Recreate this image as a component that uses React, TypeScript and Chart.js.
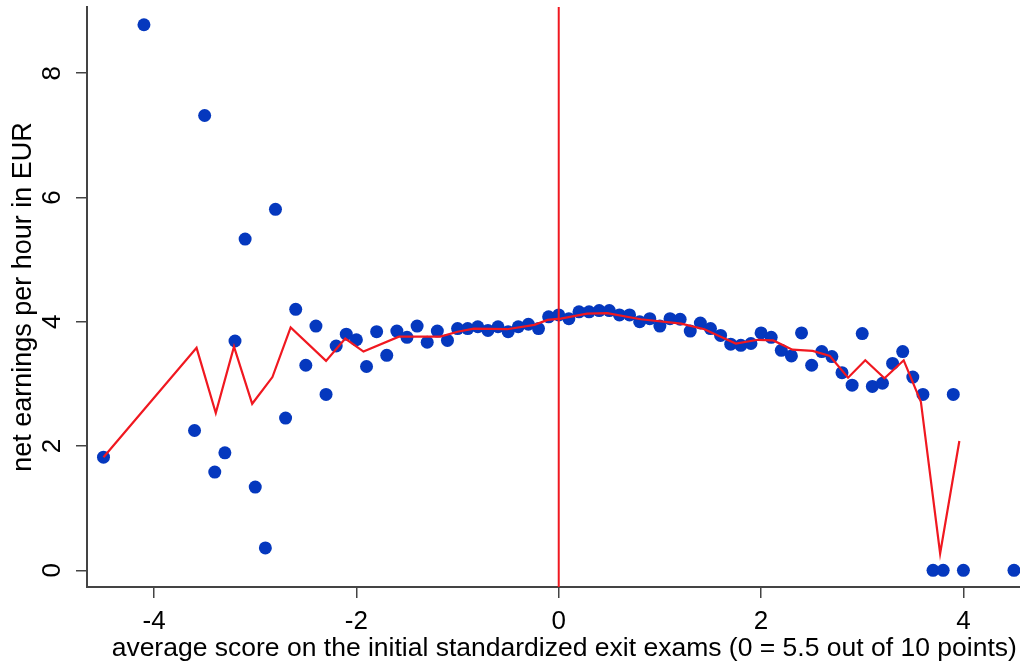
import React, { useEffect, useRef } from "react";
import { Chart, registerables } from "chart.js";

Chart.register(...registerables);

// Binned means (blue dots)
const binX = [
  -4.5, -4.1, -3.6, -3.5, -3.4, -3.3, -3.2, -3.1, -3.0, -2.9, -2.8, -2.7, -2.6, -2.5, -2.4, -2.3, -2.2, -2.1, -2.0, -1.9,
  -1.8, -1.7, -1.6, -1.5, -1.4, -1.3, -1.2, -1.1, -1.0, -0.9, -0.8, -0.7, -0.6, -0.5, -0.4, -0.3, -0.2, -0.1, 0.0, 0.1,
  0.2, 0.3, 0.4, 0.5, 0.6, 0.7, 0.8, 0.9, 1.0, 1.1, 1.2, 1.3, 1.4, 1.5, 1.6, 1.7, 1.8, 1.9, 2.0, 2.1,
  2.2, 2.3, 2.4, 2.5, 2.6, 2.7, 2.8, 2.9, 3.0, 3.1, 3.2, 3.3, 3.4, 3.5, 3.6, 3.7, 3.8, 3.9, 4.0, 4.5,
];
const binY = [
  1.82, 8.78, 2.25, 7.32, 1.58, 1.89, 3.69, 5.33, 1.34, 0.36, 5.81, 2.45, 4.2, 3.3, 3.93, 2.83, 3.61, 3.8, 3.71, 3.28,
  3.84, 3.46, 3.85, 3.75, 3.93, 3.67, 3.85, 3.7, 3.89, 3.89, 3.92, 3.86, 3.92, 3.84, 3.92, 3.96, 3.89, 4.08, 4.11, 4.05,
  4.16, 4.16, 4.18, 4.18, 4.11, 4.11, 4.0, 4.05, 3.93, 4.05, 4.04, 3.85, 3.98, 3.89, 3.78, 3.64, 3.62, 3.65, 3.82, 3.75,
  3.54, 3.45, 3.82, 3.3, 3.52, 3.44, 3.18, 2.98, 3.81, 2.96, 3.01, 3.33, 3.52, 3.11, 2.83, 0.0, 0.0, 2.83, 0.0, 0.0,
];

// Fitted (smoothed) line
const fitX = [
  -4.5, -3.58, -3.39, -3.21, -3.03, -2.83, -2.65, -2.3, -2.11, -1.93, -1.58, -1.17, -1.0, -0.84, -0.51, -0.24, -0.11, 0.02,
  0.28, 0.48, 0.81, 1.21, 1.44, 1.6, 1.75, 1.97, 2.12, 2.31, 2.51, 2.68, 2.86, 3.03, 3.22, 3.41, 3.58, 3.77, 3.96,
];
const fitY = [
  1.82, 3.58, 2.53, 3.6, 2.68, 3.11, 3.91, 3.37, 3.73, 3.52, 3.76, 3.76, 3.84, 3.89, 3.88, 3.95, 4.03, 4.05,
  4.13, 4.14, 4.04, 3.97, 3.88, 3.76, 3.65, 3.71, 3.7, 3.55, 3.53, 3.45, 3.1, 3.38, 3.09, 3.38, 2.71, 0.27, 2.08,
];

// Cutoff
const cutoffX = 0;

// Axes
const xTicks = [-4, -2, 0, 2, 4];
const yTicks = [0, 2, 4, 6, 8];
const X_MIN = -4.663;
const X_MAX = 4.772;
const Y_MIN = -0.269;
const Y_MAX = 9.066;

const xTitle = "average score on the initial standardized exit exams (0 = 5.5 out of 10 points)";
const yTitle = "net earnings per hour in EUR";

const FONT = "'Liberation Sans', Arial, Helvetica, sans-serif";
const RED = "rgb(240,24,32)";
const BLUE = "#0538BE";
const AXIS = "#444444";

const CANVAS_W = 1048;
const CANVAS_H = 663;

export default function App() {
  const ref = useRef<HTMLCanvasElement | null>(null);

  useEffect(() => {
    const canvas = ref.current;
    if (!canvas) return;
    const chart = new Chart(canvas, {
      type: "scatter",
      data: {
        datasets: [
          {
            label: "cutoff",
            data: [
              { x: cutoffX, y: Y_MIN },
              { x: cutoffX, y: Y_MAX },
            ],
            showLine: true,
            borderColor: RED,
            borderWidth: 2,
            pointRadius: 0,
            order: 0,
          },
          {
            label: "fit",
            data: fitX.map((x, i) => ({ x, y: fitY[i] })),
            showLine: true,
            borderColor: RED,
            borderWidth: 2.2,
            pointRadius: 0,
            tension: 0,
            order: 1,
          },
          {
            label: "bins",
            data: binX.map((x, i) => ({ x, y: binY[i] })),
            backgroundColor: BLUE,
            borderWidth: 0,
            pointRadius: 6.5,
            order: 2,
          },
        ],
      },
      options: {
        animation: false,
        responsive: false,
        maintainAspectRatio: false,
        layout: { padding: { top: 7, left: 0, right: 0, bottom: 0 } },
        plugins: { legend: { display: false }, tooltip: { enabled: false } },
        scales: {
          x: {
            type: "linear",
            min: X_MIN,
            max: X_MAX,
            afterBuildTicks: (s: any) => {
              s.ticks = xTicks.map((v) => ({ value: v }));
            },
            afterFit: (s: any) => {
              s.height = 76;
              s.paddingLeft = 0;
              s.paddingRight = 0;
            },
            ticks: {
              maxRotation: 0,
              minRotation: 0,
              padding: 8,
              color: "#000",
              font: { family: FONT, size: 26, lineHeight: 1.2 },
            },
            grid: { drawOnChartArea: false, drawTicks: true, tickLength: 11, color: AXIS, lineWidth: 1.5 },
            border: { display: true, color: AXIS, width: 2 },
            title: {
              display: true,
              text: xTitle,
              color: "#000",
              font: { family: FONT, size: 26.5, lineHeight: 1.1 },
              padding: { top: 0, bottom: 0 },
            },
          },
          y: {
            type: "linear",
            min: Y_MIN,
            max: Y_MAX,
            afterBuildTicks: (s: any) => {
              s.ticks = yTicks.map((v) => ({ value: v }));
            },
            afterFit: (s: any) => {
              s.width = 87;
              s.paddingTop = 0;
              s.paddingBottom = 0;
            },
            ticks: {
              minRotation: 90,
              maxRotation: 90,
              crossAlign: "center",
              padding: 16,
              color: "#000",
              font: { family: FONT, size: 26, lineHeight: 1.2 },
            },
            grid: { drawOnChartArea: false, drawTicks: true, tickLength: 11, color: AXIS, lineWidth: 1.5 },
            border: { display: true, color: AXIS, width: 2 },
            title: {
              display: true,
              text: yTitle,
              color: "#000",
              font: { family: FONT, size: 27, lineHeight: 1.2 },
              padding: { top: 7, bottom: 0 },
            },
          },
        },
      },
    });
    return () => chart.destroy();
  }, []);

  return (
    <div
      style={{
        position: "fixed",
        left: 0,
        top: 0,
        width: 1020,
        height: 663,
        overflow: "hidden",
        background: "#fff",
      }}
    >
      <div style={{ width: CANVAS_W, height: CANVAS_H }}>
        <canvas
          ref={ref}
          width={CANVAS_W}
          height={CANVAS_H}
          style={{ width: CANVAS_W, height: CANVAS_H, display: "block" }}
        />
      </div>
    </div>
  );
}
